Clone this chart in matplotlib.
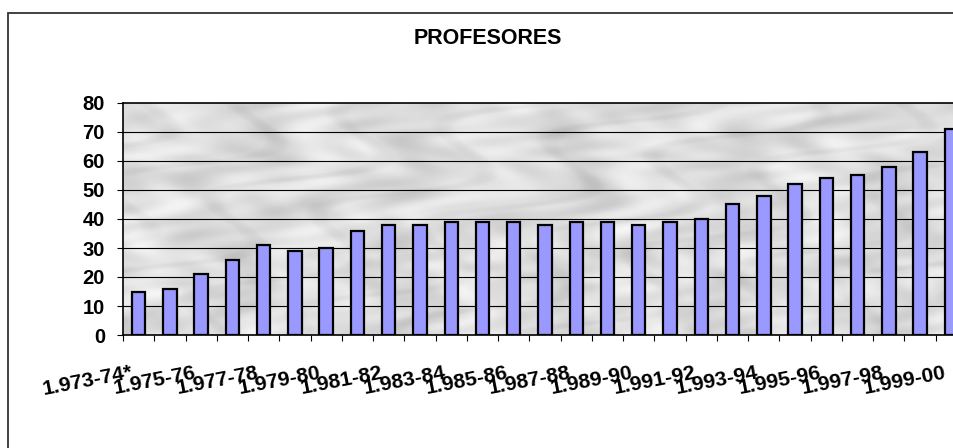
import numpy as np
import matplotlib.pyplot as plt
from matplotlib.patches import Rectangle
from matplotlib.transforms import blended_transform_factory

plt.rcParams['font.family'] = ['Liberation Sans', 'DejaVu Sans']

# Academic years (one bar each) and number of professors
cursos = ['1.973-74*', '1.974-75', '1.975-76', '1.976-77', '1.977-78', '1.978-79',
          '1.979-80', '1.980-81', '1.981-82', '1.982-83', '1.983-84', '1.984-85',
          '1.985-86', '1.986-87', '1.987-88', '1.988-89', '1.989-90', '1.990-91',
          '1.991-92', '1.992-93', '1.993-94', '1.994-95', '1.995-96', '1.996-97',
          '1.997-98', '1.998-99', '1.999-00']
profesores = [15, 16, 21, 26, 31, 29, 30, 36, 38, 38, 39, 39, 39, 38,
              39, 39, 38, 39, 40, 45, 48, 52, 54, 55, 58, 63, 71]
yticks = [0, 10, 20, 30, 40, 50, 60, 70, 80]

fig = plt.figure(figsize=(9.54, 4.48), dpi=100)
# plot area runs past the right edge of the picture (it is cropped in the original)
ax = fig.add_axes([123 / 954, 113 / 448, 844 / 954, 232 / 448])

# marble-like grey background made from a few diagonal waves
gx, gy = np.meshgrid(np.linspace(0, 1, 600), np.linspace(0, 1, 200))
u = gx * 3.0 + gy * 1.2
v = gx * 1.0 - gy * 2.0
tex = (np.sin(u * 9 + np.sin(v * 5) * 2) * 0.5
       + np.sin(u * 23 + np.cos(v * 11) * 3) * 0.3
       + np.sin(v * 17 + u * 4) * 0.2
       + np.sin(gx * 61 + np.sin(gy * 13) * 4) * np.sin(gy * 29 + gx * 7) * 0.4)
tex = 0.87 + 0.07 * tex - 0.12 * (np.clip(np.sin(u * 14 + np.sin(v * 7) * 3), 0.7, 1) - 0.7)
ax.imshow(tex, extent=(-0.5, len(cursos) - 0.5, 0, 80), aspect='auto',
          cmap='gray', vmin=0, vmax=1, interpolation='bilinear', zorder=0)

x = np.arange(len(cursos))
ax.bar(x, profesores, width=0.43, color='#9999ff', edgecolor='black',
       linewidth=1.6, zorder=3)

for yv in yticks[1:-1]:
    ax.axhline(yv, color='black', linewidth=0.8, zorder=1)

ax.set_xlim(-0.5, len(cursos) - 0.5)
ax.set_ylim(0, 80)
ax.set_yticks(yticks)
ax.set_yticklabels([str(v) for v in yticks], fontsize=14.5, fontweight='bold')
ax.set_xticks(np.arange(len(cursos) + 1) - 0.5)
ax.set_xticklabels([])
ax.tick_params(axis='y', direction='out', length=4.5, width=0.8, pad=8.5)
ax.tick_params(axis='x', direction='out', length=4.5, width=0.8)

for s in ['left', 'bottom', 'top']:
    ax.spines[s].set_linewidth(1.2)
ax.spines['right'].set_visible(False)

# every second year is labelled, slightly tilted
trans = blended_transform_factory(ax.transData, ax.transAxes)
for i in range(0, len(cursos), 2):
    ax.text(i - 0.15, -0.185, cursos[i], transform=trans, rotation=11,
            rotation_mode='anchor', ha='right', va='baseline',
            fontsize=15.2, fontweight='bold')

fig.text(488 / 954, 1 - 39 / 448, 'PROFESORES', ha='center', va='center',
         fontsize=15.5, fontweight='bold')

# outer chart frame (cut off at right and bottom)
fig.patches.append(Rectangle((8 / 954, -0.2), 1.2, 1.2 - 13 / 448, transform=fig.transFigure,
                             fill=False, edgecolor='#333333', linewidth=1.3))

fig.savefig('out.png', dpi=100)
